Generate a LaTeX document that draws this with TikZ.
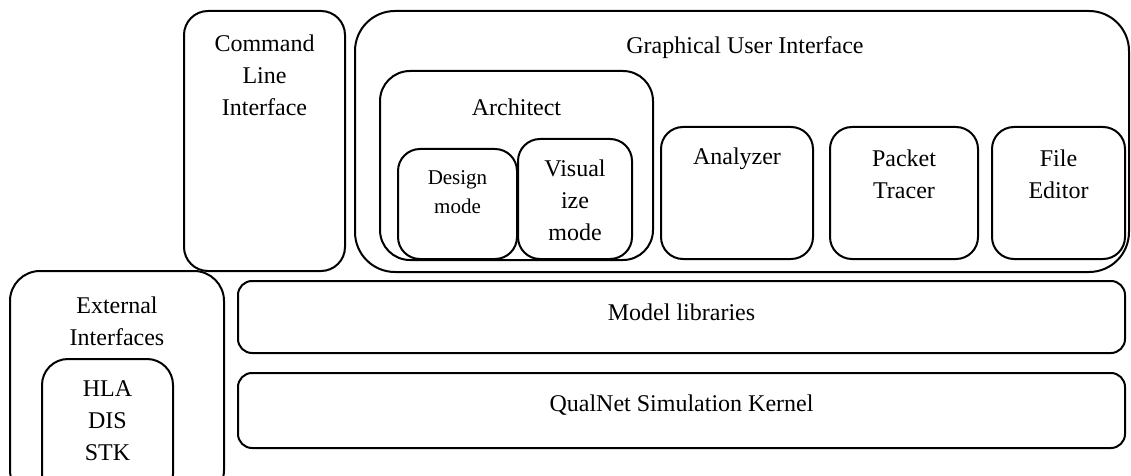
\documentclass[tikz,border=0pt]{standalone}
\usepackage{fontspec}
\setmainfont{Liberation Serif}
\usetikzlibrary{fit}
\begin{document}
\begin{tikzpicture}[x=0.5pt,y=-0.5pt,
  box/.style={draw=black, line width=1pt, inner sep=0pt, rounded corners=#1},
  box/.default=12pt,
  lbl/.style={align=center, inner sep=0pt, font=\fontsize{12pt}{16pt}\selectfont},
  smalllbl/.style={align=center, inner sep=0pt, font=\fontsize{10.5pt}{14.5pt}\selectfont}]
\useasboundingbox (0,0) rectangle (1131,476);
\clip (0,0) rectangle (1131,476);
% boxes
\node[box=12pt, fit={(184,11)(345,271)}] (cli) {};
\node[box=20pt, fit={(355,11)(1129,272)}] (gui) {};
\node[box=15pt, fit={(380,71)(653,260)}] (arch) {};
\node[box=11pt, fit={(398,149)(517,259)}] (design) {};
\node[box=11pt, fit={(518,139)(632,259)}] (visual) {};
\node[box=11pt, fit={(661,127)(813,259)}] (analyzer) {};
\node[box=11pt, fit={(830,127)(978,259)}] (packet) {};
\node[box=11pt, fit={(992,127)(1125,259)}] (file) {};
\node[box=15pt, fit={(10,271)(224,500)}] (ext) {};
\node[box=13pt, fit={(42,359)(173,500)}] (hla) {};
\node[box=7pt, fit={(238,281)(1125,353)}] (model) {};
\node[box=7pt, fit={(238,373)(1125,448)}] (kernel) {};
% labels
\node[lbl] (clit) at (264.5,75) {Command\\Line\\Interface};
\node[lbl] (guit) at (745,48) {Graphical User Interface};
\node[lbl] (archt) at (516.5,107) {Architect};
\node[smalllbl] (designt) at (457.5,192.5) {Design\\mode};
\node[lbl] (visualt) at (575,200) {Visual\\ize\\mode};
\node[lbl] (analyzert) at (737,159) {Analyzer};
\node[lbl] (packett) at (904,174) {Packet\\Tracer};
\node[lbl] (filet) at (1058.5,174) {File\\Editor};
\node[lbl] (extt) at (117,321) {External\\Interfaces};
\node[lbl] (hlat) at (107.5,420.5) {HLA\\DIS\\STK};
\node[lbl] (modelt) at (681.5,312) {Model libraries};
\node[lbl] (kernelt) at (681.5,405) {QualNet Simulation Kernel};
\end{tikzpicture}
\end{document}
